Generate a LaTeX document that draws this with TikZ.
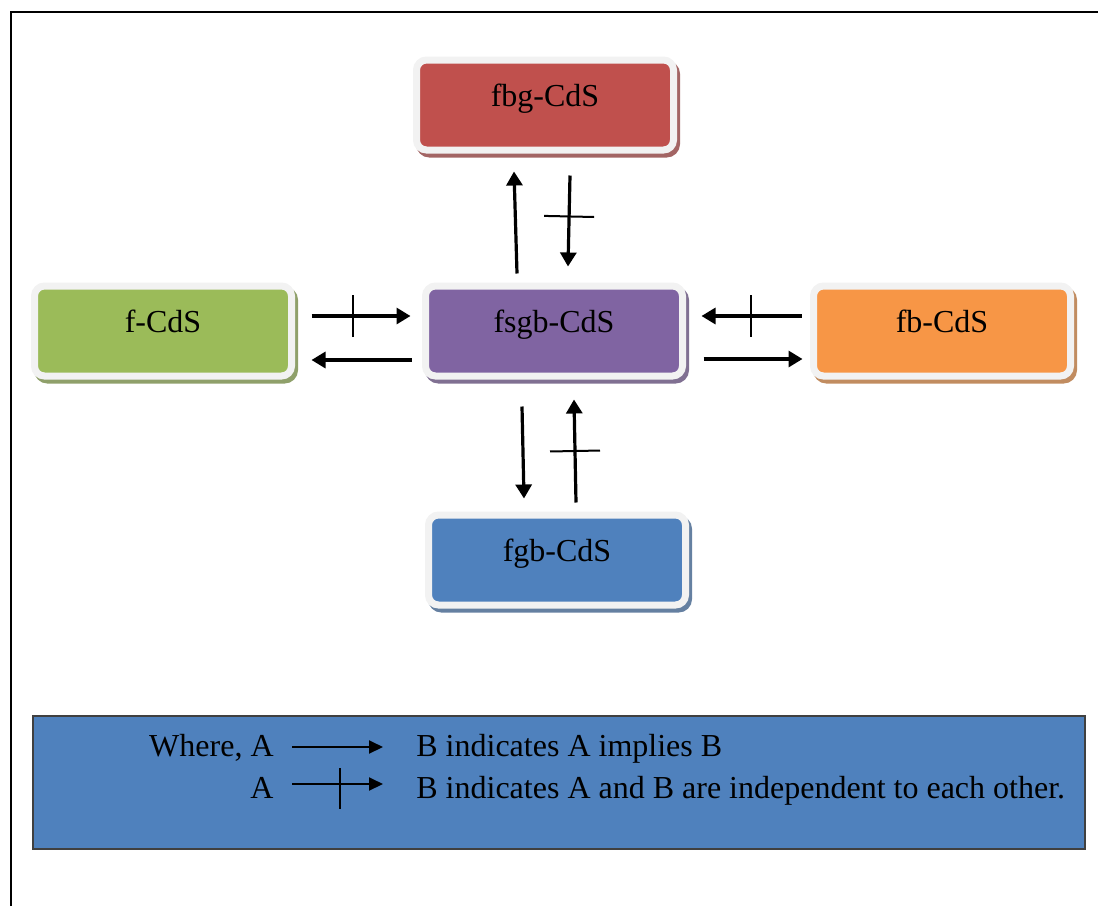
\documentclass[tikz,border=0pt]{standalone}
\usepackage{fontspec}
\setmainfont{Liberation Serif}
\usetikzlibrary{arrows.meta,calc,decorations.markings}
\definecolor{cred}{HTML}{C0504D}
\definecolor{cgreen}{HTML}{9BBB59}
\definecolor{cpurple}{HTML}{8064A2}
\definecolor{corange}{HTML}{F79646}
\definecolor{cblue}{HTML}{4F81BD}
\definecolor{rim}{HTML}{F2F2F2}
\tikzset{
  x=0.5pt, y=-0.5pt,
  cbox/.style={rectangle, rounded corners=5pt, minimum width=128.5pt, minimum height=45pt,
    inner sep=0pt, fill=#1, draw=rim, line width=3.5pt, text height=11pt, text depth=10pt,
    font=\fontsize{16}{19}\selectfont,
    preaction={draw=#1!55!gray, fill=#1!55!gray, transform canvas={shift={(1.5pt,-2pt)}}}},
  imp/.style={line width=1.6pt, -{Triangle[length=7pt,width=8pt]}},
  indep/.style 2 args={imp, decoration={markings, mark=at position #1 with
      {\draw[line width=1pt, arrows=-] (0,-#2) -- (0,#2);}}, postaction={decorate}},
  lt/.style={inner sep=0pt, font=\fontsize{16}{19}\selectfont},
  limp/.style={line width=1pt, -{Triangle[length=7pt,width=6.5pt]}},
}
\begin{document}
\begin{tikzpicture}
\useasboundingbox (0,0) rectangle (1098,906);
\draw[line width=1pt] (11,906) -- (11,12) -- (1098,12);

\node[cbox=cred]    (fbg)  at (545,105) {fbg-CdS};
\node[cbox=cgreen]  (f)    at (163,331) {f-CdS};
\node[cbox=cpurple] (fsgb) at (554,331) {fsgb-CdS};
\node[cbox=corange] (fb)   at (942,331) {fb-CdS};
\node[cbox=cblue]   (fgb)  at (557,560) {fgb-CdS};

% vertical top
\draw[imp] ($(fsgb.north)+(-37,-9)$) -- ($(fbg.south)+(-31,18)$);
\draw[indep={0.45}{12.5pt}] ($(fbg.south)+(25,22)$) -- ($(fsgb.north)+(14,-16)$);
% left
\draw[indep={0.415}{10.5pt}] ($(f.east)+(16.5,-15)$) -- ($(fsgb.west)+(-11.5,-15)$);
\draw[imp] ($(fsgb.west)+(-10.5,29)$) -- ($(f.east)+(16.5,29)$);
% right
\draw[indep={0.51}{10.5pt}] ($(fb.west)+(-8.5,-15)$) -- ($(fsgb.east)+(15.5,-15)$);
\draw[imp] ($(fsgb.east)+(17.5,28)$) -- ($(fb.west)+(-7.5,28)$);
% bottom
\draw[imp] ($(fsgb.south)+(-32,27)$) -- ($(fgb.north)+(-33,-13)$);
\draw[indep={0.5}{12.5pt}] ($(fgb.north)+(19,-9)$) -- ($(fsgb.south)+(20,20)$);

% legend
\node[draw=black!75, line width=1pt, fill=cblue, minimum width=526pt, minimum height=66.5pt,
      inner sep=0pt] (legend) at (559,782.5) {};
\node[lt, anchor=base east] (wa) at (274,756) {Where, A};
\node[lt, anchor=base west] (b1) at (416,756) {B indicates A implies B};
\node[lt, anchor=base east] (a2) at (274,798) {A};
\node[lt, anchor=base west] (b2) at (416,798) {B indicates A and B are independent to each other.};
\draw[limp] ($(wa.base east)+(18,-9)$) -- ($(b1.base west)+(-33,-9)$);
\draw[limp] ($(a2.base east)+(18,-14)$) -- ($(b2.base west)+(-33,-14)$);
\coordinate (barT) at ($(a2.base east)+(66,-30)$);
\coordinate (barB) at ($(a2.base east)+(66,11)$);
\draw[line width=1pt] (barT) -- (barB);
\end{tikzpicture}
\end{document}
